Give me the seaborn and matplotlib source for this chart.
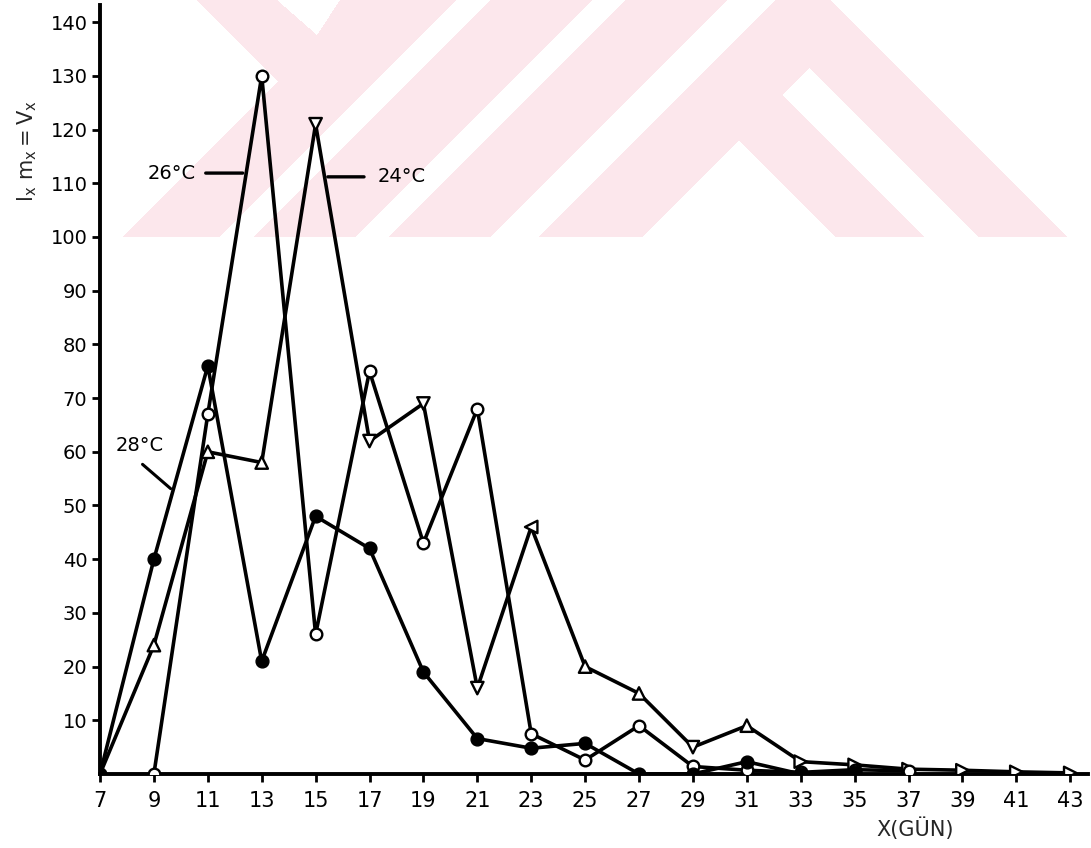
import numpy as np
import pandas as pd
import matplotlib
matplotlib.use("Agg")
import matplotlib.pyplot as plt
import seaborn as sns

# Net reproductive value (lx mx = Vx) by age in days, at three temperatures
days_24 = [7, 9, 11, 13, 15, 17, 19, 21, 23, 25, 27, 29, 31, 33, 35, 37, 39, 41, 43]
vx_24 = [0, 24, 60, 58, 121, 62, 69, 16, 46, 20, 15, 5, 9, 2.3, 1.7, 0.9, 0.7, 0.4, 0.2]
shape_24 = ["^", "^", "^", "^", "v", "v", "v", "v", "<", "^", "^", "v", "^",
            ">", ">", ">", ">", ">", ">"]

days_26 = [9, 11, 13, 15, 17, 19, 21, 23, 25, 27, 29, 31, 33, 35, 37]
vx_26 = [0, 67, 130, 26, 75, 43, 68, 7.5, 2.6, 9, 1.4, 0.7, 0.3, 0.8, 0.6]

days_28 = [7, 9, 11, 13, 15, 17, 19, 21, 23, 25, 27, 29, 31, 33, 35]
vx_28 = [0, 40, 76, 21, 48, 42, 19, 6.6, 4.8, 5.7, 0, 0, 2.3, 0, 0.3]

x_ticks = list(range(7, 44, 2))
y_ticks = list(range(10, 141, 10))

sns.set_style("ticks")
plt.rcParams["font.family"] = ["DejaVu Sans"]
plt.rcParams["mathtext.fontset"] = "dejavusans"

W, H = 1091, 848
fig = plt.figure(figsize=(W / 100, H / 100), dpi=100)
fig.patch.set_facecolor("white")

# faint pink striped emblem across the top of the sheet
band_h = 237
yy, xx = np.mgrid[0:band_h, 0:W].astype(float) + 0.5
s = xx + yy
d = xx - yy
pink = ((d >= 197) | (s >= 360)) & ~((s > 875) & (d > 830)) & (d <= 830)
notch = (yy < 35) & (xx >= 277 + yy * 40 / 35) & (xx <= 340 - yy * 23 / 35)
gaps = ((s >= 457) & (s <= 490)) | ((s >= 593) & (s <= 625)) | ((s >= 728) & (s <= 775))
inner = (s >= 880) & (d <= 598)
slot = (d >= 688) & (d <= 741) & (s >= 878)
pink &= ~(notch | gaps | inner | slot)
img = np.ones((band_h, W, 4))
img[..., 0] = 252 / 255
img[..., 1] = 231 / 255
img[..., 2] = 236 / 255
img[..., 3] = pink.astype(float)
fig.figimage(img, xo=0, yo=H - band_h, origin="upper", zorder=-5)

ax = fig.add_axes([100 / W, 74 / H, 988 / W, 769 / H])
ax.set_facecolor("none")

lw = 2.6
df24 = pd.DataFrame({"day": days_24, "vx": vx_24, "shape": shape_24})
df26 = pd.DataFrame({"day": days_26, "vx": vx_26})
df28 = pd.DataFrame({"day": days_28, "vx": vx_28})

for df in (df24, df26, df28):
    sns.lineplot(data=df, x="day", y="vx", color="black", linewidth=lw,
                 estimator=None, sort=False, ax=ax, zorder=2)

sns.scatterplot(data=df24, x="day", y="vx", style="shape",
                markers={m: m for m in set(shape_24)}, s=80, color="white",
                edgecolor="black", linewidth=1.7, legend=False, ax=ax, zorder=3)
sns.scatterplot(data=df26, x="day", y="vx", marker="o", s=70, color="white",
                edgecolor="black", linewidth=1.7, legend=False, ax=ax, zorder=3)
sns.scatterplot(data=df28, x="day", y="vx", marker="o", s=85, color="black",
                edgecolor="black", linewidth=1.0, legend=False, ax=ax, zorder=3)

# curve labels with leader lines
txt_kw = dict(fontsize=14, color="black", va="center")
ax.annotate("", xy=(12.4, 111.9), xytext=(10.82, 111.9),
            arrowprops=dict(arrowstyle="-", lw=2.4, color="black"))
ax.text(9.67, 111.9, "26°C", ha="center", **txt_kw)
ax.annotate("", xy=(15.35, 111.2), xytext=(16.9, 111.2),
            arrowprops=dict(arrowstyle="-", lw=2.4, color="black"))
ax.text(18.2, 111.2, "24°C", ha="center", **txt_kw)
ax.annotate("", xy=(9.7, 52.8), xytext=(8.5, 58.0),
            arrowprops=dict(arrowstyle="-", lw=2.2, color="black"))
ax.text(8.48, 61.2, "28°C", ha="center", **txt_kw)

ax.set_xlim(7, 43.66)
ax.set_ylim(0, 143.2)
ax.set_xticks(x_ticks)
ax.set_xticklabels([str(v) for v in x_ticks], fontsize=15)
ax.set_yticks(y_ticks)
ax.set_yticklabels([str(v) for v in y_ticks], fontsize=14)
ax.tick_params(axis="both", direction="out", length=6, width=2, color="black",
               labelcolor="black")
ax.tick_params(axis="x", pad=6)
ax.tick_params(axis="y", pad=3)

for side in ("top", "right"):
    ax.spines[side].set_visible(False)
for side in ("left", "bottom"):
    ax.spines[side].set_linewidth(2.8)
    ax.spines[side].set_color("black")

ax.set_xlabel("X(GÜN)", fontsize=15)
ax.xaxis.set_label_coords(0.825, -0.056)
ax.set_ylabel(r"$\mathregular{l_x\ m_x = V_x}$", fontsize=15)
ax.yaxis.set_label_coords(-0.062, 0.81)

fig.savefig("out.png", dpi=100, facecolor="white")
